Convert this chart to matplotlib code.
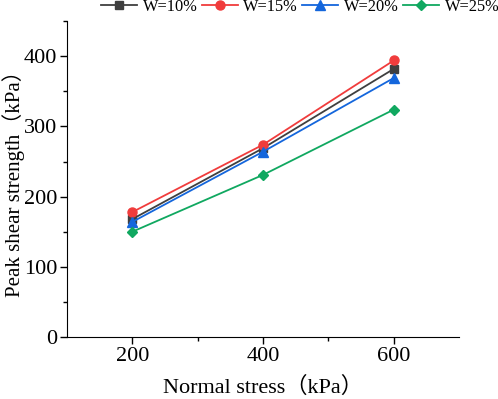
import matplotlib
matplotlib.use("Agg")
import matplotlib.pyplot as plt
from matplotlib.ticker import MultipleLocator

normal_stress = [200, 400, 600]
w10 = [168, 269, 382]
w15 = [178, 274, 394]
w20 = [164, 264, 369]
w25 = [150, 231, 324]
labels = ["W=10%", "W=15%", "W=20%", "W=25%"]

plt.rcParams['font.family'] = ['Liberation Serif', 'Noto Sans CJK SC', 'DejaVu Sans']

fig = plt.figure(figsize=(4.98, 3.99), dpi=100)
ax = fig.add_axes([0.1345, 0.1554, 0.7875, 0.7916])

series = [
    (w10, "#3f3f3f", "s", 5.5),
    (w15, "#f03c3c", "o", 6.5),
    (w20, "#1466dc", "^", 7),
    (w25, "#10a860", "D", 5.5),
]
for (vals, c, m, ms), lab in zip(series, labels):
    ax.plot(normal_stress, vals, color=c, marker=m, markersize=ms, lw=1.3, label=lab)

ax.set_xlim(100, 700)
ax.set_ylim(0, 450)
ax.xaxis.set_major_locator(MultipleLocator(200))
ax.yaxis.set_major_locator(MultipleLocator(100))
ax.yaxis.set_minor_locator(MultipleLocator(50))
ax.spines['top'].set_visible(False)
ax.spines['right'].set_visible(False)
ax.tick_params(which='major', direction='out', length=5, width=1, labelsize=16, pad=2)
ax.tick_params(which='minor', direction='out', length=3, width=1)
ax.set_xticks([200, 400, 600])
ax.set_xticks([300, 500], minor=True)

ax.set_xlabel("Normal stress（kPa）", fontsize=16)
ax.xaxis.set_label_coords(0.5, -0.125)
ax.set_ylabel("Peak shear strength（kPa）", fontsize=15)
ax.yaxis.set_label_coords(-0.108, 0.5)

leg = fig.legend(loc='center left', bbox_to_anchor=(101/498, 1 - 7/399), ncol=4, frameon=False,
                 fontsize=11.8, handlelength=2.2, columnspacing=0.25, handletextpad=0.35,
                 borderpad=0, borderaxespad=0)

fig.savefig("out.png", dpi=100)
